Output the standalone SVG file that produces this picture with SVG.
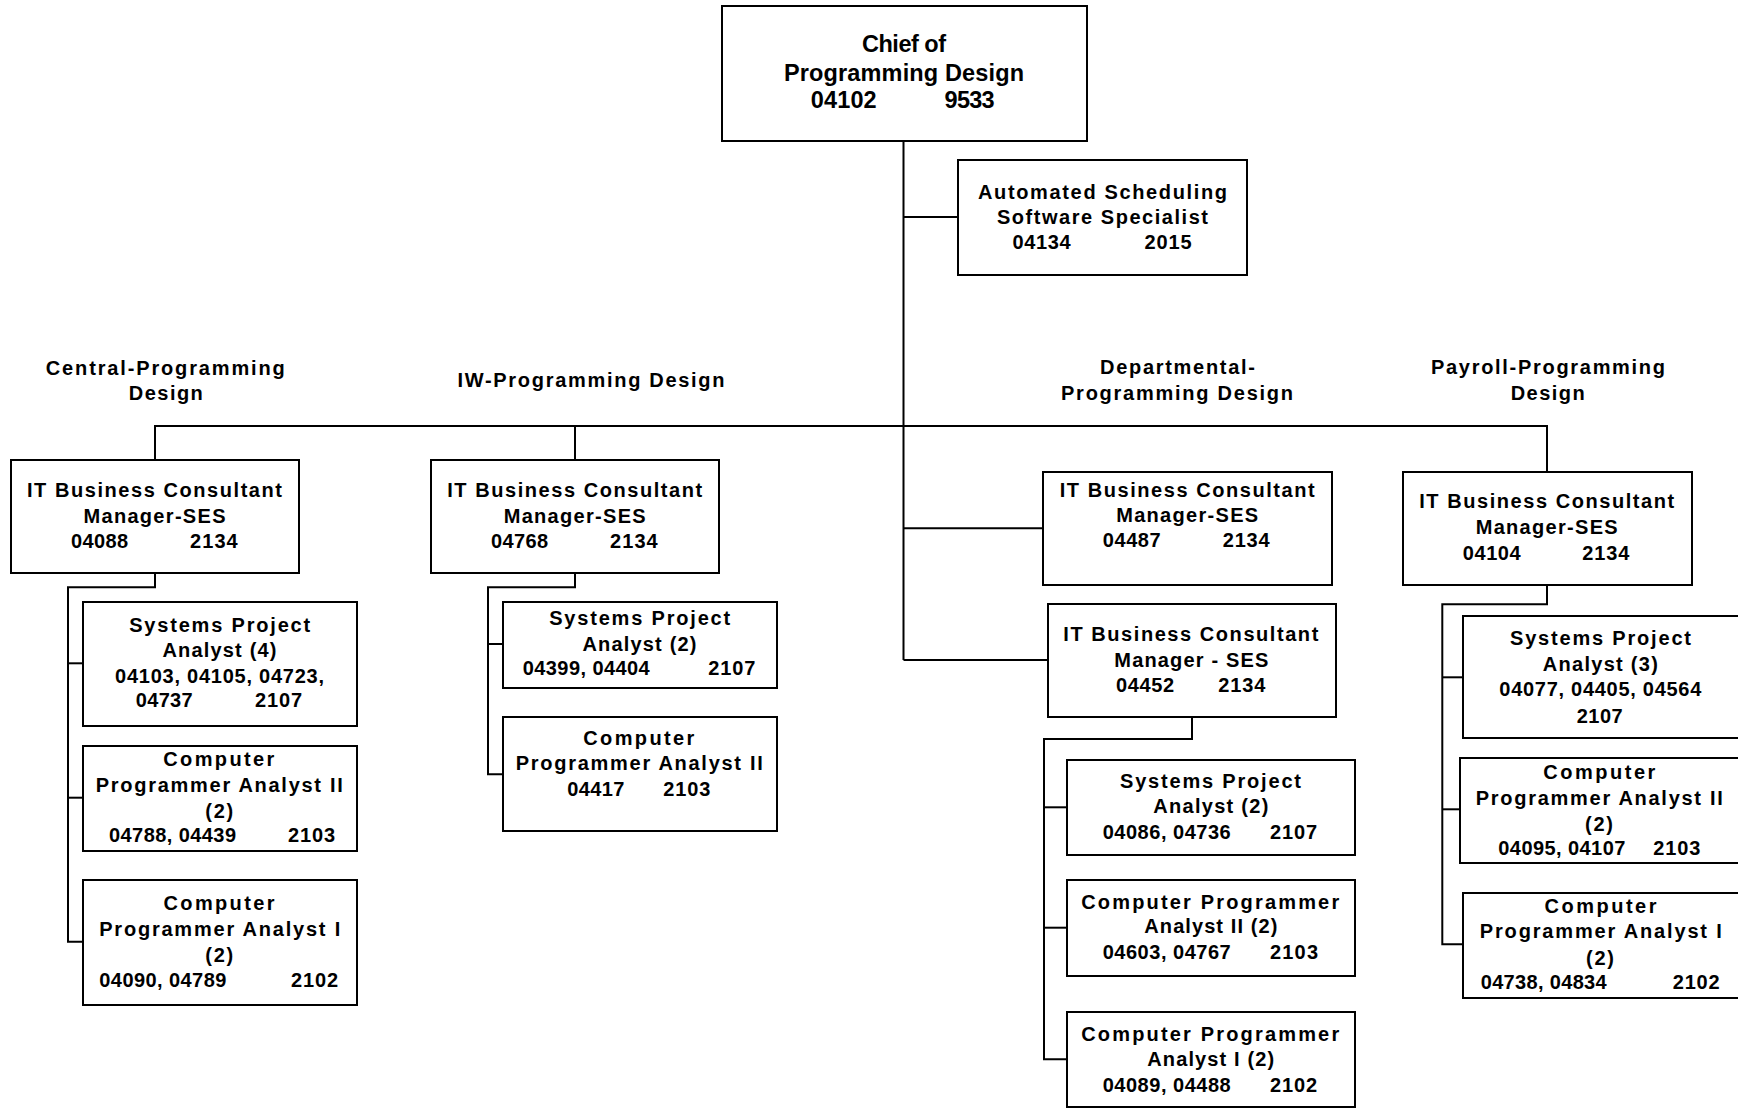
<svg xmlns="http://www.w3.org/2000/svg" width="1738" height="1109" viewBox="0 0 1738 1109">
  <style>
    .box { fill: #ffffff; stroke: #000000; stroke-width: 2; }
    .ln { fill: none; stroke: #000000; stroke-width: 2; }
    text { font-family: "Liberation Sans", Arial, Helvetica, sans-serif; font-weight: bold; font-size: 20px; fill: #000000; }
    .m { text-anchor: middle; }
    .big { font-size: 23.5px; }
  </style>
  <rect x="0" y="0" width="1738" height="1109" fill="#ffffff"/>

  <!-- reporting lines -->
  <g id="connectors">
    <path class="ln" d="M903.5,141 V660"/>
    <path class="ln" d="M903.5,217 H958"/>
    <path class="ln" d="M155,460 V426 H1547 V472"/>
    <path class="ln" d="M575,426 V460"/>
    <path class="ln" d="M903.5,528.3 H1043"/>
    <path class="ln" d="M903.5,660 H1048"/>
    <!-- Central-Programming Design -->
    <path class="ln" d="M155,573 V587.3 H68 V941.7 H83"/>
    <path class="ln" d="M68,663.3 H83"/>
    <path class="ln" d="M68,797.7 H83"/>
    <!-- IW-Programming Design -->
    <path class="ln" d="M575,573 V587.3 H488 V774.3 H503"/>
    <path class="ln" d="M488,644 H503"/>
    <!-- Departmental-Programming Design -->
    <path class="ln" d="M1192,717 V739 H1044 V1059.3 H1067"/>
    <path class="ln" d="M1044,807.3 H1067"/>
    <path class="ln" d="M1044,927.7 H1067"/>
    <!-- Payroll-Programming Design -->
    <path class="ln" d="M1547,585 V604.3 H1442.3 V944.3 H1463"/>
    <path class="ln" d="M1442.3,677.3 H1463"/>
    <path class="ln" d="M1442.3,809.3 H1460"/>
  </g>

  <!-- section headings -->
  <g id="section-labels">
    <text class="m" x="165.3" y="375" textLength="239">Central-Programming</text>
    <text class="m" x="165.8" y="400" textLength="74">Design</text>
    <text class="m" x="591" y="387" textLength="267">IW-Programming Design</text>
    <text class="m" x="1177.5" y="374" textLength="155">Departmental-</text>
    <text class="m" x="1177" y="400" textLength="232">Programming Design</text>
    <text class="m" x="1548" y="374" textLength="234">Payroll-Programming</text>
    <text class="m" x="1547.7" y="400" textLength="74">Design</text>
  </g>

  <g id="chief">
    <rect class="box" x="722" y="6" width="365" height="135"/>
    <text class="m big" x="904" y="52" textLength="84">Chief of</text>
    <text class="m big" x="904" y="81" textLength="240">Programming Design</text>
    <text class="big" x="810.7" y="108" textLength="66">04102</text>
    <text class="big" x="944.6" y="108" textLength="50">9533</text>
  </g>

  <g id="scheduling-specialist">
    <rect class="box" x="958" y="160" width="289" height="115"/>
    <text class="m" x="1102.5" y="199" textLength="249">Automated Scheduling</text>
    <text class="m" x="1102.5" y="224" textLength="211">Software Specialist</text>
    <text x="1012.5" y="249" textLength="58">04134</text>
    <text x="1144.6" y="249" textLength="47">2015</text>
  </g>

  <!-- Central-Programming Design -->
  <g id="central-manager">
    <rect class="box" x="11" y="460" width="288" height="113"/>
    <text class="m" x="154.5" y="496.7" textLength="255">IT Business Consultant</text>
    <text class="m" x="154.5" y="522.7" textLength="142">Manager-SES</text>
    <text x="71" y="548.3" textLength="57">04088</text>
    <text x="190" y="548.3" textLength="47.7">2134</text>
  </g>
  <g id="central-spa">
    <rect class="box" x="83" y="602" width="274" height="124"/>
    <text class="m" x="219.7" y="631.7" textLength="181">Systems Project</text>
    <text class="m" x="219.5" y="657.3" textLength="114">Analyst (4)</text>
    <text x="115" y="682.7" textLength="209">04103, 04105, 04723,</text>
    <text x="135.7" y="707.3" textLength="57">04737</text>
    <text x="255" y="707.3" textLength="47">2107</text>
  </g>
  <g id="central-cpa2">
    <rect class="box" x="83" y="746" width="274" height="105"/>
    <text class="m" x="218.8" y="766" textLength="111">Computer</text>
    <text class="m" x="219.3" y="791.7" textLength="247">Programmer Analyst II</text>
    <text class="m" x="219.2" y="818.3" textLength="28">(2)</text>
    <text x="109" y="842.3" textLength="127">04788, 04439</text>
    <text x="288" y="842.3" textLength="47">2103</text>
  </g>
  <g id="central-cpa1">
    <rect class="box" x="83" y="880" width="274" height="125"/>
    <text class="m" x="219" y="910" textLength="111">Computer</text>
    <text class="m" x="219.7" y="935.7" textLength="241">Programmer Analyst I</text>
    <text class="m" x="219.2" y="962.3" textLength="28">(2)</text>
    <text x="99.3" y="986.7" textLength="127">04090, 04789</text>
    <text x="291" y="986.7" textLength="47">2102</text>
  </g>

  <!-- IW-Programming Design -->
  <g id="iw-manager">
    <rect class="box" x="431" y="460" width="288" height="113"/>
    <text class="m" x="574.7" y="496.7" textLength="255">IT Business Consultant</text>
    <text class="m" x="574.7" y="522.7" textLength="142">Manager-SES</text>
    <text x="491" y="548.3" textLength="57">04768</text>
    <text x="610" y="548.3" textLength="47.7">2134</text>
  </g>
  <g id="iw-spa">
    <rect class="box" x="503" y="602" width="274" height="86"/>
    <text class="m" x="639.7" y="625" textLength="181">Systems Project</text>
    <text class="m" x="639.5" y="651" textLength="114">Analyst (2)</text>
    <text x="522.7" y="675" textLength="127">04399, 04404</text>
    <text x="708.3" y="675" textLength="47">2107</text>
  </g>
  <g id="iw-cpa2">
    <rect class="box" x="503" y="717" width="274" height="114"/>
    <text class="m" x="638.8" y="745" textLength="111">Computer</text>
    <text class="m" x="639.3" y="770" textLength="247">Programmer Analyst II</text>
    <text x="567.3" y="796" textLength="57">04417</text>
    <text x="663.3" y="796" textLength="47">2103</text>
  </g>

  <!-- Departmental-Programming Design -->
  <g id="dept-manager-a">
    <rect class="box" x="1043" y="472" width="289" height="113"/>
    <text class="m" x="1187.2" y="496.7" textLength="255">IT Business Consultant</text>
    <text class="m" x="1187.2" y="521.7" textLength="142">Manager-SES</text>
    <text x="1102.7" y="547.3" textLength="58">04487</text>
    <text x="1222.7" y="547.3" textLength="47">2134</text>
  </g>
  <g id="dept-manager-b">
    <rect class="box" x="1048" y="604" width="288" height="113"/>
    <text class="m" x="1190.8" y="641" textLength="255">IT Business Consultant</text>
    <text class="m" x="1191.3" y="666.7" textLength="154">Manager - SES</text>
    <text x="1116" y="691.7" textLength="58">04452</text>
    <text x="1218.3" y="691.7" textLength="47">2134</text>
  </g>
  <g id="dept-spa">
    <rect class="box" x="1067" y="760" width="288" height="95"/>
    <text class="m" x="1210.5" y="787.7" textLength="181">Systems Project</text>
    <text class="m" x="1210.8" y="813.3" textLength="115">Analyst (2)</text>
    <text x="1102.7" y="839.3" textLength="128">04086, 04736</text>
    <text x="1270" y="839.3" textLength="47">2107</text>
  </g>
  <g id="dept-cpa2">
    <rect class="box" x="1067" y="880" width="288" height="96"/>
    <text class="m" x="1210.2" y="909" textLength="258">Computer Programmer</text>
    <text class="m" x="1210.8" y="933.3" textLength="133">Analyst II (2)</text>
    <text x="1102.7" y="959.3" textLength="128">04603, 04767</text>
    <text x="1270" y="959.3" textLength="48">2103</text>
  </g>
  <g id="dept-cpa1">
    <rect class="box" x="1067" y="1012" width="288" height="95"/>
    <text class="m" x="1210.2" y="1040.7" textLength="258">Computer Programmer</text>
    <text class="m" x="1210.7" y="1065.7" textLength="127">Analyst I (2)</text>
    <text x="1102.7" y="1091.7" textLength="128">04089, 04488</text>
    <text x="1270" y="1091.7" textLength="47">2102</text>
  </g>

  <!-- Payroll-Programming Design -->
  <g id="payroll-manager">
    <rect class="box" x="1403" y="472" width="289" height="113"/>
    <text class="m" x="1546.7" y="508.3" textLength="255">IT Business Consultant</text>
    <text class="m" x="1546.7" y="534.3" textLength="142">Manager-SES</text>
    <text x="1462.7" y="560" textLength="58">04104</text>
    <text x="1582.3" y="560" textLength="47">2134</text>
  </g>
  <g id="payroll-spa">
    <rect class="box" x="1463" y="616" width="280" height="122"/>
    <text class="m" x="1600.5" y="645" textLength="181">Systems Project</text>
    <text class="m" x="1600.3" y="670.7" textLength="115">Analyst (3)</text>
    <text x="1499.3" y="696" textLength="202">04077, 04405, 04564</text>
    <text class="m" x="1599.7" y="722.7" textLength="46">2107</text>
  </g>
  <g id="payroll-cpa2">
    <rect class="box" x="1460" y="758" width="283" height="105"/>
    <text class="m" x="1599.3" y="779.3" textLength="112">Computer</text>
    <text class="m" x="1599.3" y="805" textLength="247">Programmer Analyst II</text>
    <text class="m" x="1599" y="831" textLength="28">(2)</text>
    <text x="1498.3" y="855" textLength="127">04095, 04107</text>
    <text x="1653.3" y="855" textLength="47">2103</text>
  </g>
  <g id="payroll-cpa1">
    <rect class="box" x="1463" y="893" width="280" height="105"/>
    <text class="m" x="1600.5" y="913.3" textLength="112">Computer</text>
    <text class="m" x="1600.8" y="938.3" textLength="242">Programmer Analyst I</text>
    <text class="m" x="1600" y="965" textLength="28">(2)</text>
    <text x="1480.7" y="989" textLength="126">04738, 04834</text>
    <text x="1672.7" y="989" textLength="47">2102</text>
  </g>
</svg>
